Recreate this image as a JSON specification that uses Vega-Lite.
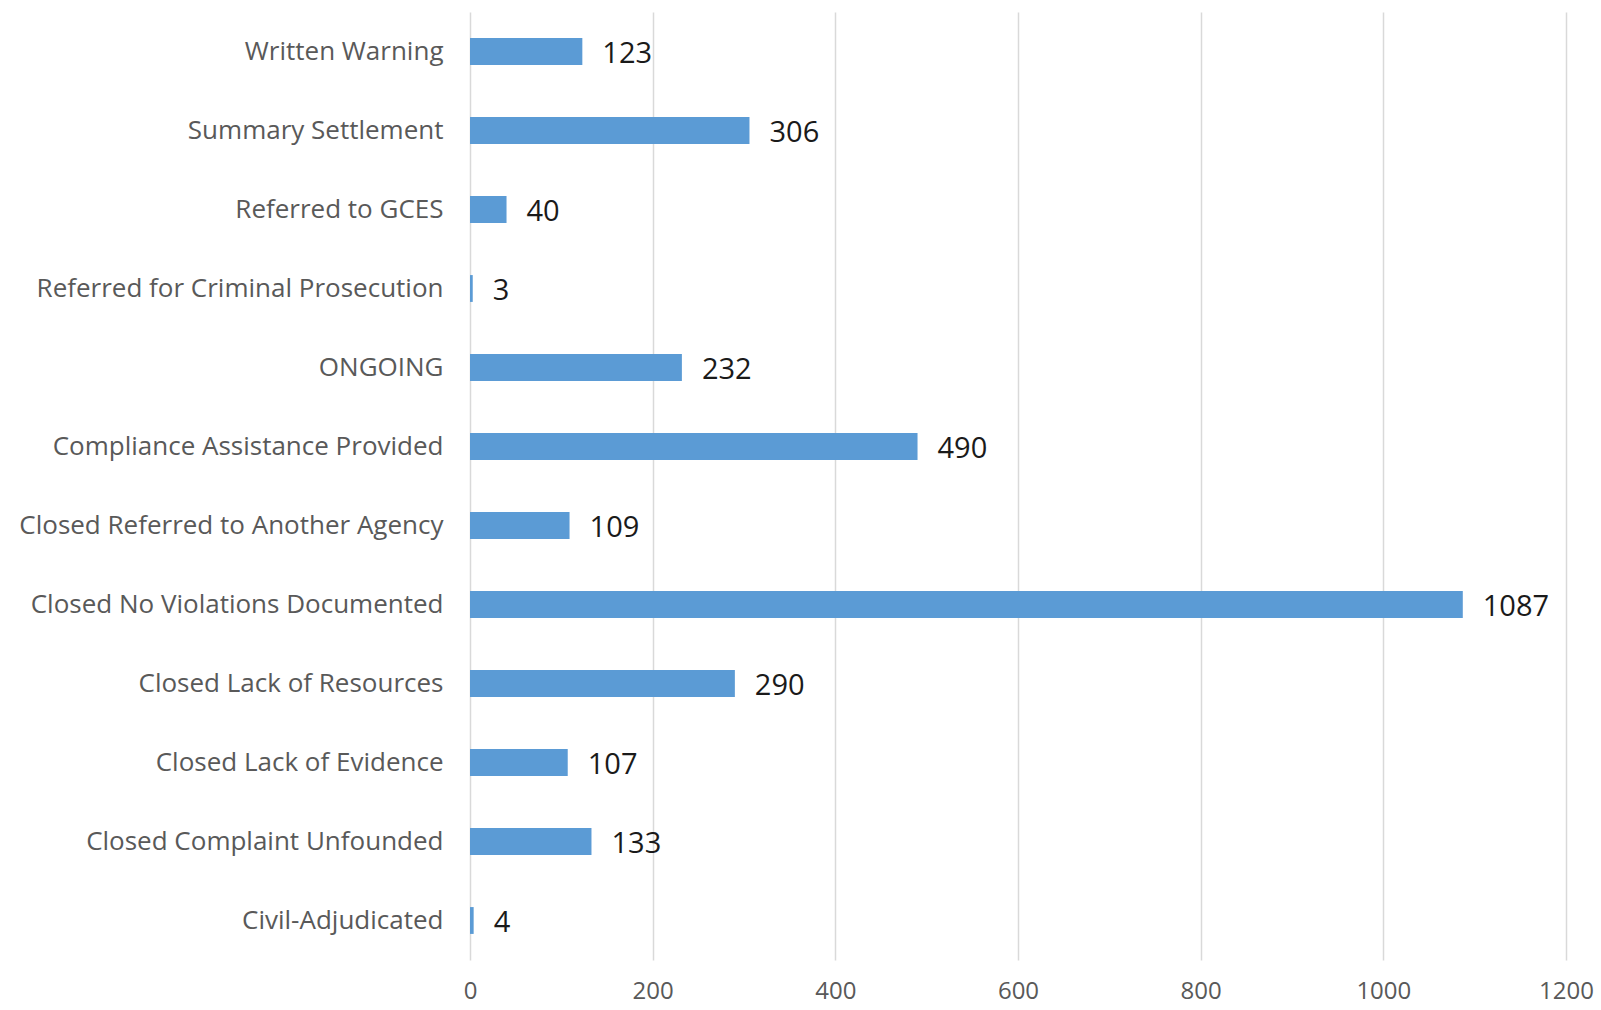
{
  "$schema": "https://vega.github.io/schema/vega-lite/v6.json",
  "autosize": "none",
  "width": 1096,
  "height": 948,
  "padding": {"left": 470, "top": 12, "right": 35, "bottom": 50},
  "background": "white",
  "config": {"view": {"stroke": null}, "font": "Open Sans"},
  "data": {"values": [
    {"category": "Written Warning", "count": 123},
    {"category": "Summary Settlement", "count": 306},
    {"category": "Referred to GCES", "count": 40},
    {"category": "Referred for Criminal Prosecution", "count": 3},
    {"category": "ONGOING", "count": 232},
    {"category": "Compliance Assistance Provided", "count": 490},
    {"category": "Closed Referred to Another Agency", "count": 109},
    {"category": "Closed No Violations Documented", "count": 1087},
    {"category": "Closed Lack of Resources", "count": 290},
    {"category": "Closed Lack of Evidence", "count": 107},
    {"category": "Closed Complaint Unfounded", "count": 133},
    {"category": "Civil-Adjudicated", "count": 4}
  ]},
  "encoding": {
    "y": {"field": "category", "type": "nominal", "sort": null,
      "scale": {"paddingInner": 0.66, "paddingOuter": 0.33},
      "axis": {"title": null, "domain": false, "ticks": false, "labelPadding": 27, "labelFontSize": 26, "labelColor": "#595959", "labelFont": "Open Sans", "labelLimit": 470}},
    "x": {"field": "count", "type": "quantitative",
      "scale": {"domain": [0, 1200], "nice": false},
      "axis": {"title": null, "domain": false, "ticks": false, "format": "d", "values": [0,200,400,600,800,1000,1200], "labelPadding": 19, "labelFontSize": 24, "labelColor": "#595959", "gridColor": "#d9d9d9", "gridWidth": 1.5, "labelFlush": false}}
  },
  "layer": [
    {"mark": {"type": "bar", "color": "#5B9BD5"}},
    {"mark": {"type": "text", "align": "left", "baseline": "middle", "dx": 20, "dy": 2, "fontSize": 29, "color": "#1a1a1a", "font": "Open Sans"},
     "encoding": {"text": {"field": "count", "type": "quantitative"}}}
  ]
}
